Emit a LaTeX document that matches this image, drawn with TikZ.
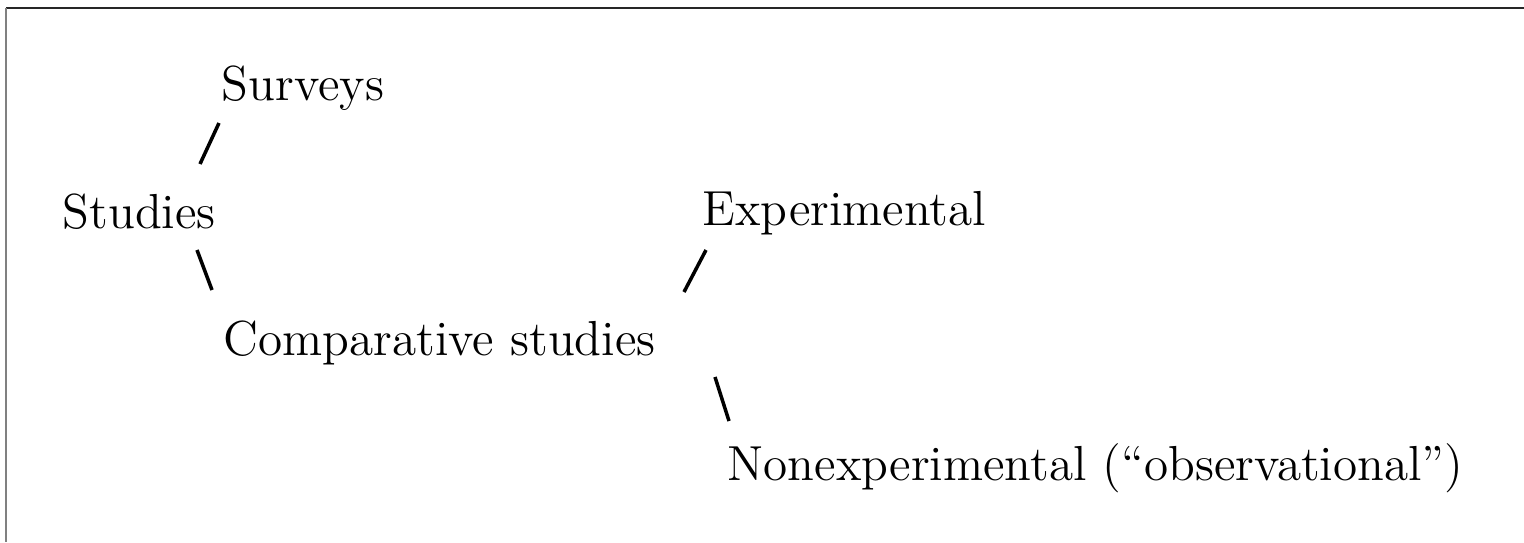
\documentclass[tikz,border=0pt]{standalone}
\begin{document}
\begin{tikzpicture}[x=0.01cm,y=-0.01cm,
  lbl/.style={anchor=base west,inner sep=0pt,font=\fontsize{14}{17}\selectfont},
  conn/.style={line width=1pt,line cap=butt}]
\useasboundingbox (0,0) rectangle (1524,542);
\fill[white] (0,0) rectangle (1524,542);
% frame
\draw[black!85,line width=0.6pt] (6,8) -- (1524,8);
\draw[black!50,line width=0.6pt] (6,8) -- (6,542);
% nodes
\node[lbl] (surveys) at (221,100) {Surveys};
\node[lbl] (studies) at (62,228) {Studies};
\node[lbl] (comp) at (223,355) {Comparative studies};
\node[lbl] (exp) at (702,225) {Experimental};
\node[lbl] (nonexp) at (727,480) {Nonexperimental (``observational'')};
% connector ends
\coordinate (c1a) at (200,164);
\coordinate (c1b) at (219,123);
\coordinate (c2a) at (197,250);
\coordinate (c2b) at (212,290);
\coordinate (c3a) at (684,292);
\coordinate (c3b) at (706,250);
\coordinate (c4a) at (715,377);
\coordinate (c4b) at (729,421);
\draw[conn] (c1a) -- (c1b);
\draw[conn] (c2a) -- (c2b);
\draw[conn] (c3a) -- (c3b);
\draw[conn] (c4a) -- (c4b);
\end{tikzpicture}
\end{document}
